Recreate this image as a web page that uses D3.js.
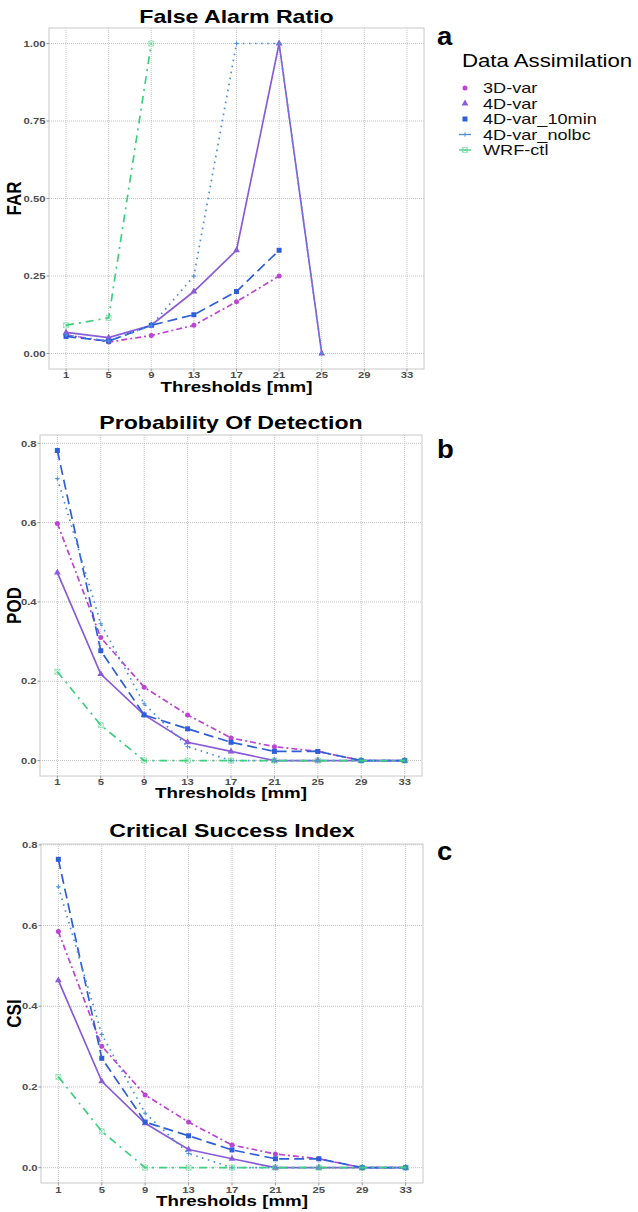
<!DOCTYPE html>
<html>
<head>
<meta charset="utf-8">
<script src="https://cdn.jsdelivr.net/npm/d3@7"></script>
<style>
  body { margin: 0; background: #fff; }
  text { font-family: "Liberation Sans", Arial, sans-serif; }
</style>
</head>
<body>
<div id="vis"></div>
<script>
// verification scores per rain threshold
const thresholds = [1, 5, 9, 13, 17, 21, 25, 29, 33];
const seriesNames = ["3D-var", "4D-var", "4D-var_10min", "4D-var_nolbc", "WRF-ctl"];

const far3Dvar   = [0.060, 0.037, 0.058, 0.091, 0.167, 0.250, null, null, null];
const far4Dvar   = [0.068, 0.051, 0.091, 0.200, 0.333, 1.000, 0.000, null, null];
const far10min   = [0.055, 0.040, 0.091, 0.125, 0.200, 0.333, null, null, null];
const farNolbc   = [0.060, 0.040, 0.090, 0.250, 1.000, 1.000, 0.000, null, null];
const farWrf     = [0.091, 0.115, 1.000, null, null, null, null, null, null];

const pod3Dvar   = [0.598, 0.310, 0.185, 0.115, 0.057, 0.035, 0.023, 0, 0];
const pod4Dvar   = [0.474, 0.218, 0.115, 0.046, 0.023, 0, 0, 0, 0];
const pod10min   = [0.782, 0.277, 0.115, 0.080, 0.046, 0.023, 0.023, 0, 0];
const podNolbc   = [0.711, 0.345, 0.143, 0.035, 0, 0, 0, 0, 0];
const podWrf     = [0.224, 0.089, 0, 0, 0, 0, 0, 0, 0];

const csi3Dvar   = [0.585, 0.301, 0.180, 0.113, 0.056, 0.034, 0.022, 0, 0];
const csi4Dvar   = [0.464, 0.214, 0.110, 0.045, 0.022, 0, 0, 0, 0];
const csi10min   = [0.764, 0.271, 0.113, 0.079, 0.044, 0.022, 0.022, 0, 0];
const csiNolbc   = [0.696, 0.330, 0.135, 0.035, 0, 0, 0, 0, 0];
const csiWrf     = [0.225, 0.090, 0, 0, 0, 0, 0, 0, 0];

const styles = {
    "3D-var":       {color: "#bb45d3", dash: "6,3,2,3", shape: "circle"},
    "4D-var":       {color: "#8a5cd8", dash: null,      shape: "triangle"},
    "4D-var_10min": {color: "#2f5fd8", dash: "10,5",    shape: "square"},
    "4D-var_nolbc": {color: "#4b8fdb", dash: "1.6,4.5", shape: "plus"},
    "WRF-ctl":      {color: "#3dd07f", dash: "8,5,2,5", shape: "boxx"}
};

const panels = [
    {title: "False Alarm Ratio", ylab: "FAR", tag: "a", values: [far3Dvar, far4Dvar, far10min, farNolbc, farWrf],
     left: 49, right: 424, top: 28, bottom: 369, ydom: [-0.05, 1.05], yticks: [0, 0.25, 0.5, 0.75, 1], fmt: ".2f",
     titleY: 23, tickY: 377.5, xlabY: 392, tagY: 45},
    {title: "Probability Of Detection", ylab: "POD", tag: "b", values: [pod3Dvar, pod4Dvar, pod10min, podNolbc, podWrf],
     left: 40, right: 422, top: 435, bottom: 776, ydom: [-0.039, 0.821], yticks: [0, 0.2, 0.4, 0.6, 0.8], fmt: ".1f",
     titleY: 429, tickY: 785, xlabY: 798, tagY: 458},
    {title: "Critical Success Index", ylab: "CSI", tag: "c", values: [csi3Dvar, csi4Dvar, csi10min, csiNolbc, csiWrf],
     left: 41, right: 423, top: 844, bottom: 1183, ydom: [-0.038, 0.802], yticks: [0, 0.2, 0.4, 0.6, 0.8], fmt: ".1f",
     titleY: 837, tickY: 1193, xlabY: 1206, tagY: 860}
];

const W = 638, H = 1212;
const stretch = 1.25; // the figure's lettering is wide

const svg = d3.select("#vis").append("svg").attr("width", W).attr("height", H);

function label(g, x, y, s, size, opts = {}) {
    const sx = opts.sx || stretch;
    return g.append("text")
        .attr("transform", `translate(${x},${y}) scale(${sx},1)` + (opts.rot ? " rotate(-90)" : ""))
        .attr("text-anchor", opts.anchor || "middle")
        .attr("font-size", size)
        .attr("font-weight", opts.weight || "bold")
        .attr("fill", opts.fill || "#000")
        .text(s);
}

function marker(g, shape, color, x, y) {
    if (shape === "circle") {
        g.append("circle").attr("cx", x).attr("cy", y).attr("r", 2.5).attr("fill", color);
    } else if (shape === "triangle") {
        g.append("path").attr("d", d3.symbol(d3.symbolTriangle, 20)()).attr("transform", `translate(${x},${y})`).attr("fill", color);
    } else if (shape === "square") {
        g.append("rect").attr("x", x - 2.5).attr("y", y - 2.5).attr("width", 5).attr("height", 5).attr("fill", color);
    } else if (shape === "plus") {
        g.append("path").attr("d", `M${x - 2.2},${y}H${x + 2.2}M${x},${y - 2.2}V${y + 2.2}`).attr("stroke", color).attr("stroke-width", 1);
    } else {
        g.append("path")
            .attr("d", `M${x - 2.5},${y - 2.5}h5v5h-5zM${x - 2.5},${y - 2.5}l5,5M${x + 2.5},${y - 2.5}l-5,5`)
            .attr("fill", "none").attr("stroke", color).attr("stroke-width", 0.8).attr("opacity", 0.6);
    }
}

panels.forEach(p => {
    const g = svg.append("g");
    const x = d3.scaleLinear().domain([-0.6, 34.6]).range([p.left, p.right]);
    const y = d3.scaleLinear().domain(p.ydom).range([p.bottom, p.top]);

    // grid
    g.append("g").selectAll("line").data(thresholds).join("line")
        .attr("x1", d => x(d)).attr("x2", d => x(d)).attr("y1", p.top).attr("y2", p.bottom)
        .attr("stroke", "#b5b5b5").attr("stroke-width", 0.8).attr("stroke-dasharray", "1,1");
    g.append("g").selectAll("line").data(p.yticks).join("line")
        .attr("x1", p.left).attr("x2", p.right).attr("y1", d => y(d)).attr("y2", d => y(d))
        .attr("stroke", "#b5b5b5").attr("stroke-width", 0.8).attr("stroke-dasharray", "1,1");
    g.append("rect").attr("x", p.left).attr("y", p.top)
        .attr("width", p.right - p.left).attr("height", p.bottom - p.top)
        .attr("fill", "none").attr("stroke", "#c8c8c8").attr("stroke-width", 1);

    // ticks and tick labels
    const fmt = d3.format(p.fmt);
    p.yticks.forEach(t => {
        g.append("line").attr("x1", p.left - 2.5).attr("x2", p.left).attr("y1", y(t)).attr("y2", y(t)).attr("stroke", "#999");
        label(g, p.left - 3.5, y(t) + 3.2, fmt(t), 9, {anchor: "end", fill: "#4d4d4d"});
    });
    thresholds.forEach(t => {
        g.append("line").attr("x1", x(t)).attr("x2", x(t)).attr("y1", p.bottom).attr("y2", p.bottom + 2.5).attr("stroke", "#999");
        label(g, x(t), p.tickY, t, 9, {fill: "#4d4d4d"});
    });

    // titles
    const cx = (p.left + p.right) / 2;
    label(g, cx, p.titleY, p.title, 18.5);
    label(g, cx, p.xlabY, "Thresholds [mm]", 15);
    label(g, 21, (p.top + p.bottom) / 2, p.ylab, 17, {rot: true, sx: 1.15});
    label(g, 437, p.tagY, p.tag, 25, {anchor: "start", sx: 1.1});

    // series
    const line = d3.line().defined(d => d[1] !== null).x(d => x(d[0])).y(d => y(d[1]));
    seriesNames.forEach((name, i) => {
        const st = styles[name];
        const pts = thresholds.map((t, j) => [t, p.values[i][j]]);
        g.append("path").datum(pts).attr("d", line)
            .attr("fill", "none").attr("stroke", st.color).attr("stroke-width", 1.7)
            .attr("stroke-dasharray", st.dash);
        pts.filter(d => d[1] !== null).forEach(d => marker(g, st.shape, st.color, x(d[0]), y(d[1])));
    });
});

// legend
const lg = svg.append("g");
label(lg, 462, 67, "Data Assimilation", 18.5, {anchor: "start", weight: "normal", sx: 1.2});
seriesNames.forEach((name, i) => {
    const st = styles[name];
    const yy = 88 + i * 15.5;
    if (name === "4D-var_nolbc" || name === "WRF-ctl") {
        lg.append("line").attr("x1", 459).attr("x2", 471).attr("y1", yy).attr("y2", yy)
            .attr("stroke", st.color).attr("stroke-width", 1.3);
    }
    marker(lg, st.shape, st.color, 465, yy);
    label(lg, 483, yy + 5, name, 14.5, {anchor: "start", weight: "normal", sx: 1.25, fill: "#111"});
});
</script>
</body>
</html>
